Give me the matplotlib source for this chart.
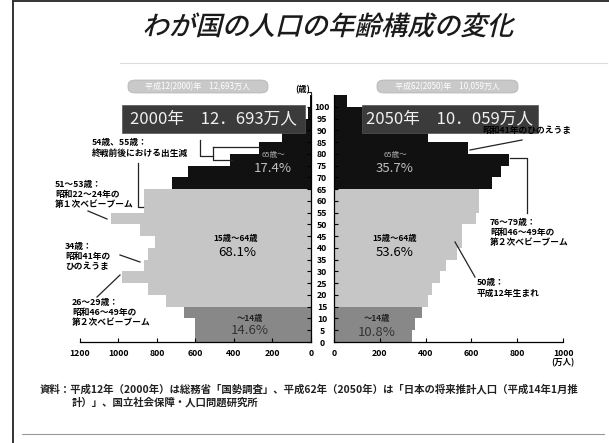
import matplotlib.pyplot as plt
import numpy as np
from matplotlib.textpath import TextPath
from matplotlib.patches import PathPatch, FancyBboxPatch, Rectangle
from matplotlib.font_manager import FontProperties
from matplotlib.transforms import Affine2D
from matplotlib.lines import Line2D

plt.rcParams['font.family'] = ['Noto Sans CJK JP', 'DejaVu Sans']

# age groups (5-year bins, lower edge) and population in 10,000 persons
ages = list(range(0, 105, 5))
pop_2000 = [600, 605, 660, 755, 845, 980, 870, 845, 810, 890, 1040, 870, 865,
            720, 640, 420, 270, 150, 55, 15, 3]
pop_2050 = [339, 352, 383, 409, 430, 461, 491, 535, 561, 561, 622, 635, 635,
            691, 730, 765, 583, 409, 260, 130, 56]

left_ticks = [1200, 1000, 800, 600, 400, 200, 0]
right_ticks = [0, 200, 400, 600, 800, 1000]
age_ticks = list(range(0, 101, 5))

title = 'わが国の人口の年齢構成の変化'
source1 = '資料：平成12年（2000年）は総務省「国勢調査」、平成62年（2050年）は「日本の将来推計人口（平成14年1月推'
source2 = '計）」、国立社会保障・人口問題研究所'

W, H = 609, 443
fig = plt.figure(figsize=(W / 100, H / 100), dpi=100)
fig.patch.set_facecolor('white')


def fx(x):
    return x / W


def fy(y):
    return 1 - y / H


def ftext(x, y, s, **kw):
    fig.text(fx(x), fy(y), s, **kw)


def fline(xs, ys, **kw):
    kw.setdefault('color', '#222222')
    kw.setdefault('lw', 0.9)
    fig.add_artist(Line2D([fx(v) for v in xs], [fy(v) for v in ys],
                          transform=fig.transFigure, **kw))


def colour(a):
    if a >= 65:
        return '#111111'
    if a >= 15:
        return '#c6c6c6'
    return '#888888'


cols = [colour(a) for a in ages]

# pyramid axes
axL = fig.add_axes([fx(80), fy(342), (311 - 80) / W, (342 - 95) / H])
axR = fig.add_axes([fx(334), fy(342), (563 - 334) / W, (342 - 95) / H])

axL.barh(ages, pop_2000, height=5, align='edge', color=cols, linewidth=0)
axR.barh(ages, pop_2050, height=5, align='edge', color=cols, linewidth=0)

axL.set_xlim(1200, 0)
axR.set_xlim(0, 1000)
for ax in (axL, axR):
    ax.set_ylim(0, 105)
    ax.set_facecolor('none')
    ax.spines['top'].set_visible(False)
    ax.spines['bottom'].set_linewidth(0.9)
    ax.tick_params(axis='x', direction='in', length=3, width=0.8,
                   labelsize=6.3, pad=5)

axL.spines['left'].set_visible(False)
axL.spines['right'].set_linewidth(0.9)
axR.spines['right'].set_visible(False)
axR.spines['left'].set_linewidth(0.9)

axL.set_xticks(left_ticks)
axL.set_xticklabels([str(v) for v in left_ticks], fontweight='bold')
axR.set_xticks(right_ticks)
axR.set_xticklabels([str(v) for v in right_ticks], fontweight='bold')

axL.yaxis.tick_right()
axL.set_yticks(age_ticks)
axL.set_yticklabels([str(v) for v in age_ticks], fontweight='bold')
axL.tick_params(axis='y', direction='in', length=3, width=0.8,
                labelsize=6.3, pad=8)
for lab in axL.get_yticklabels():
    lab.set_ha('center')
axR.set_yticks(age_ticks)
axR.set_yticklabels([])
axR.tick_params(axis='y', direction='in', length=3, width=0.8)

# small hook at the top of the age axis
fline([311, 311, 308], [95, 92, 92], lw=0.8)
ftext(303, 90, '(歳)', fontsize=6, fontweight='bold', ha='center', va='center')
ftext(563, 363, '(万人)', fontsize=6, fontweight='bold', ha='center', va='center')

# title with a slanted look
fp = FontProperties(family='Noto Sans CJK JP', weight='medium')
tp = TextPath((0, 0), title, size=26.5, prop=fp)
ext = tp.get_extents()
tr = Affine2D().skew_deg(14, 0).translate(328 - ext.width / 2 - ext.x0, H - 35)
fig.add_artist(PathPatch(tp, transform=tr, facecolor='#1a1a1a', edgecolor='none'))

# page frame and rules
fline([13, 13], [0, 443], color='#333333', lw=1.4)
fline([13, 609], [1, 1], color='#333333', lw=1.4)
fline([120, 607], [63, 63], color='#dddddd', lw=0.8)
fline([22, 604], [434, 434], color='#999999', lw=0.8)

# header pills
for x0, x1, s in [(128, 268, '平成12(2000)年　12,693万人'),
                  (377, 518, '平成62(2050)年　10,059万人')]:
    fig.add_artist(FancyBboxPatch((fx(x0), fy(93)), fx(x1 - x0), 13 / H,
                                  boxstyle='round,pad=0,rounding_size=0.012',
                                  transform=fig.transFigure,
                                  facecolor='#c9c9c9', edgecolor='#b0b0b0', lw=0.5))
    ftext((x0 + x1) / 2, 86.5, s, fontsize=5.8, color='white',
          ha='center', va='center')

# right-side annotation partly hidden under the label box
ftext(482, 131, '昭和41年のひのえうま', fontsize=6.3, fontweight='bold',
      ha='left', va='center')

# dark label boxes
for x0, x1, s in [(122, 305, '2000年　12．693万人'),
                  (362, 538, '2050年　10．059万人')]:
    fig.add_artist(Rectangle((fx(x0), fy(133)), fx(x1 - x0), 28 / H,
                             transform=fig.transFigure,
                             facecolor='#3b3b3b', edgecolor='#555555', lw=0.5))
    ftext((x0 + x1) / 2, 119, s, fontsize=12, color='#f0f0f0',
          ha='center', va='center')

# share labels on the bars
ftext(273, 155, '65歳～', fontsize=5.5, color='#aaaaaa', ha='center', va='center')
ftext(273, 168, '17.4%', fontsize=9.5, color='#c0c0c0', ha='center', va='center')
ftext(395, 155, '65歳～', fontsize=5.5, color='#aaaaaa', ha='center', va='center')
ftext(395, 169, '35.7%', fontsize=9.5, color='#c0c0c0', ha='center', va='center')

ftext(236, 238, '15歳～64歳', fontsize=6, fontweight='bold', ha='center', va='center')
ftext(237, 252, '68.1%', fontsize=9.5, ha='center', va='center')
ftext(395, 238, '15歳～64歳', fontsize=6, fontweight='bold', ha='center', va='center')
ftext(395, 252, '53.6%', fontsize=9.5, ha='center', va='center')

ftext(250, 318, '～14歳', fontsize=6, fontweight='bold', color='#222222', ha='center', va='center')
ftext(250, 331, '14.6%', fontsize=9.5, color='#333333', ha='center', va='center')
ftext(377, 319, '～14歳', fontsize=6, fontweight='bold', color='#222222', ha='center', va='center')
ftext(377, 332, '10.8%', fontsize=9.5, color='#333333', ha='center', va='center')

# annotations, left pyramid
ann = dict(fontsize=6.3, fontweight='bold', ha='left', va='center')
ftext(92, 142, '54歳、55歳：', **ann)
ftext(92, 153, '終戦前後における出生減', **ann)
fline([200, 200, 213], [140, 156, 156])
fline([213, 260], [147, 147])
fline([213, 213, 232], [147, 160, 160])
fline([138, 138, 143], [163, 207, 207])

ftext(55, 185, '51～53歳：', **ann)
ftext(55, 195, '昭和22～24年の', **ann)
ftext(55, 205, '第１次ベビーブーム', **ann)
fline([88, 107], [211, 219])

ftext(65, 247, '34歳：', **ann)
ftext(65, 257, '昭和41年の', **ann)
ftext(65, 267, 'ひのえうま', **ann)
fline([120, 140], [255, 262])

ftext(72, 302, '26～29歳：', **ann)
ftext(72, 312, '昭和46～49年の', **ann)
ftext(72, 322, '第２次ベビーブーム', **ann)
fline([97, 120], [297, 275])

# annotations, right pyramid
fline([470, 522], [150, 140])
fline([510, 527, 527], [158, 158, 213])
ftext(490, 222, '76～79歳：', **ann)
ftext(490, 232, '昭和46～49年の', **ann)
ftext(490, 242, '第２次ベビーブーム', **ann)
fline([455, 475], [242, 277])
ftext(477, 282, '50歳：', **ann)
ftext(477, 293, '平成12年生まれ', **ann)

# source note
ftext(40, 389, source1, fontsize=7.5, fontweight='bold', color='#222222',
      ha='left', va='center')
ftext(72, 402, source2, fontsize=7.5, fontweight='bold', color='#222222',
      ha='left', va='center')

fig.savefig('out.png', dpi=100)
